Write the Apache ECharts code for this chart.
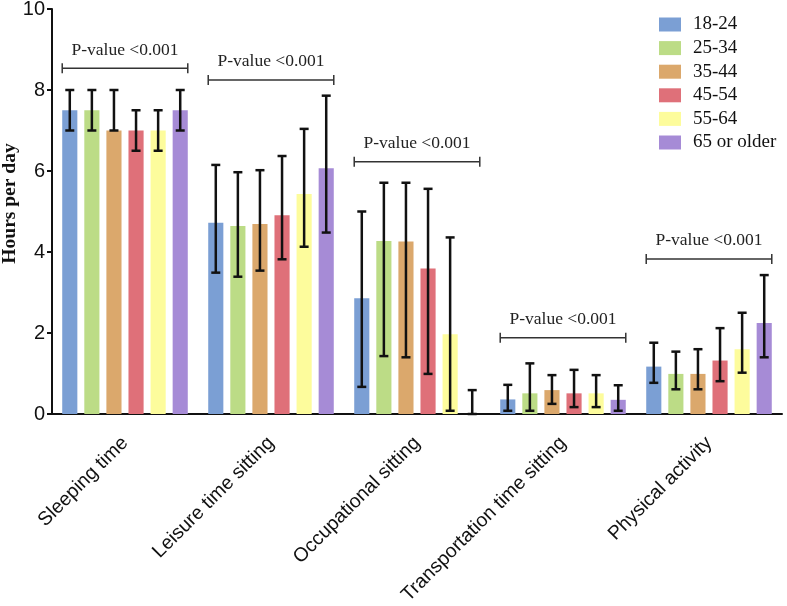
<!DOCTYPE html>
<html>
<head>
<meta charset="utf-8">
<script src="https://cdn.jsdelivr.net/npm/echarts@6/dist/echarts.min.js"></script>
<style>
  html, body { margin: 0; padding: 0; background: #fff; }
  #main { width: 787px; height: 606px; }
</style>
</head>
<body>
<div id="main"></div>
<script>
// categories and age groups
var categories = ['Sleeping time', 'Leisure time sitting', 'Occupational sitting', 'Transportation time sitting', 'Physical activity'];
var ageGroups = ['18-24', '25-34', '35-44', '45-54', '55-64', '65 or older'];
var colors = ['#7b9fd4', '#bcdc86', '#dba86c', '#df7079', '#fdfc9c', '#a68bd6'];

// mean hours per day, one array per age group (order of categories)
var mean1824 = [7.5, 4.72, 2.86, 0.36, 1.17];
var mean2534 = [7.5, 4.64, 4.27, 0.51, 0.99];
var mean3544 = [7.0, 4.69, 4.26, 0.59, 0.99];
var mean4554 = [7.0, 4.91, 3.59, 0.51, 1.32];
var mean5564 = [7.0, 5.43, 1.97, 0.51, 1.60];
var mean65up = [7.5, 6.07, 0.0, 0.35, 2.25];

// error bar lower / upper ends
var low1824 = [7.0, 3.49, 0.67, 0.08, 0.77];
var high1824 = [8.0, 6.15, 5.0, 0.72, 1.76];
var low2534 = [7.0, 3.39, 1.43, 0.08, 0.61];
var high2534 = [8.0, 5.97, 5.71, 1.25, 1.54];
var low3544 = [7.0, 3.54, 1.40, 0.25, 0.61];
var high3544 = [8.0, 6.02, 5.71, 0.96, 1.60];
var low4554 = [6.5, 3.82, 0.99, 0.17, 0.81];
var high4554 = [7.5, 6.37, 5.56, 1.09, 2.12];
var low5564 = [6.5, 4.13, 0.08, 0.17, 1.02];
var high5564 = [7.5, 7.04, 4.36, 0.96, 2.50];
var low65up = [7.0, 4.48, 0.0, 0.08, 1.40];
var high65up = [8.0, 7.86, 0.59, 0.71, 3.43];

// significance brackets (height in hours) and labels
var pBracketY = [8.54, 8.25, 6.23, 1.88, 3.83];
var pLabels = ['P-value <0.001', 'P-value <0.001', 'P-value <0.001', 'P-value <0.001', 'P-value <0.001'];

var means = [mean1824, mean2534, mean3544, mean4554, mean5564, mean65up];
var lows = [low1824, low2534, low3544, low4554, low5564, low65up];
var highs = [high1824, high2534, high3544, high4554, high5564, high65up];

var catGap = 0.14, barGap = 0.46;

var chart = echarts.init(document.getElementById('main'));

function errRender(i) {
    return function (params, api) {
        var c = api.value(0);
        var lo = api.coord([c, api.value(1)]);
        var hi = api.coord([c, api.value(2)]);
        var band = api.size([1, 0])[0];
        var bw = band * (1 - catGap) / (6 + 5 * barGap);
        var x = lo[0] + (i - 2.5) * bw * (1 + barGap);
        var h = 4.5;
        var st = { stroke: '#111', lineWidth: 2.5 };
        return {
            type: 'group',
            children: [
                { type: 'line', shape: { x1: x, y1: lo[1], x2: x, y2: hi[1] }, style: st },
                { type: 'line', shape: { x1: x - h, y1: hi[1], x2: x + h, y2: hi[1] }, style: st },
                { type: 'line', shape: { x1: x - h, y1: lo[1], x2: x + h, y2: lo[1] }, style: st }
            ]
        };
    };
}

function bracketRender(params, api) {
    var c = api.value(0);
    var p = api.coord([c, api.value(1)]);
    var band = api.size([1, 0])[0];
    var half = band * 0.43;
    var st = { stroke: '#333', lineWidth: 1.5 };
    return {
        type: 'group',
        children: [
            { type: 'line', shape: { x1: p[0] - half, y1: p[1], x2: p[0] + half, y2: p[1] }, style: st },
            { type: 'line', shape: { x1: p[0] - half, y1: p[1] - 5, x2: p[0] - half, y2: p[1] + 5 }, style: st },
            { type: 'line', shape: { x1: p[0] + half, y1: p[1] - 5, x2: p[0] + half, y2: p[1] + 5 }, style: st },
            { type: 'text', x: p[0], y: p[1] - 9, style: {
                text: pLabels[params.dataIndex], fill: '#222', fontFamily: 'Liberation Serif',
                fontSize: 17.5, align: 'center', verticalAlign: 'bottom' } }
        ]
    };
}

var series = [];
ageGroups.forEach(function (name, i) {
    series.push({
        name: name,
        type: 'bar',
        data: means[i],
        barGap: (barGap * 100) + '%',
        barCategoryGap: (catGap * 100) + '%',
        itemStyle: { color: colors[i] },
        z: 2
    });
});
ageGroups.forEach(function (name, i) {
    series.push({
        type: 'custom',
        renderItem: errRender(i),
        encode: { x: 0, y: [1, 2] },
        data: categories.map(function (c, k) { return [k, lows[i][k], highs[i][k]]; }),
        z: 5
    });
});
series.push({
    type: 'custom',
    renderItem: bracketRender,
    encode: { x: 0, y: 1 },
    data: categories.map(function (c, k) { return [k, pBracketY[k]]; }),
    z: 5
});

var option = {
    animation: false,
    backgroundColor: '#fff',
    color: colors,
    legend: {
        data: ageGroups,
        orient: 'vertical',
        left: 654,
        top: 10,
        itemWidth: 22,
        itemHeight: 14,
        itemGap: 4.6,
        icon: 'rect',
        textStyle: { fontFamily: 'Liberation Serif', fontSize: 19, color: '#111', padding: [0, 0, 0, 7] }
    },
    grid: { left: 52, right: 5, top: 9, bottom: 192, containLabel: false, outerBoundsMode: 'none' },
    xAxis: {
        type: 'category',
        data: categories,
        axisLine: { lineStyle: { color: '#111', width: 2 } },
        axisTick: { show: false },
        axisLabel: {
            rotate: 45,
            margin: 26,
            color: '#111',
            fontFamily: 'Liberation Sans',
            fontSize: 19.5,
            interval: 0
        }
    },
    yAxis: {
        type: 'value',
        min: 0,
        max: 10,
        interval: 2,
        name: 'Hours per day',
        nameLocation: 'middle',
        nameGap: 32,
        nameMoveOverlap: false,
        nameTextStyle: { fontFamily: 'Liberation Serif', fontWeight: 'bold', fontSize: 19.5, color: '#111', padding: [0, 0, 0, 16] },
        axisLine: { show: true, lineStyle: { color: '#111', width: 2 } },
        axisTick: { show: true, length: 5, lineStyle: { color: '#111', width: 2 } },
        axisLabel: { color: '#111', fontFamily: 'Liberation Sans', fontSize: 20, margin: 7 },
        splitLine: { show: false }
    },
    series: series
};

chart.setOption(option);
</script>
</body>
</html>
